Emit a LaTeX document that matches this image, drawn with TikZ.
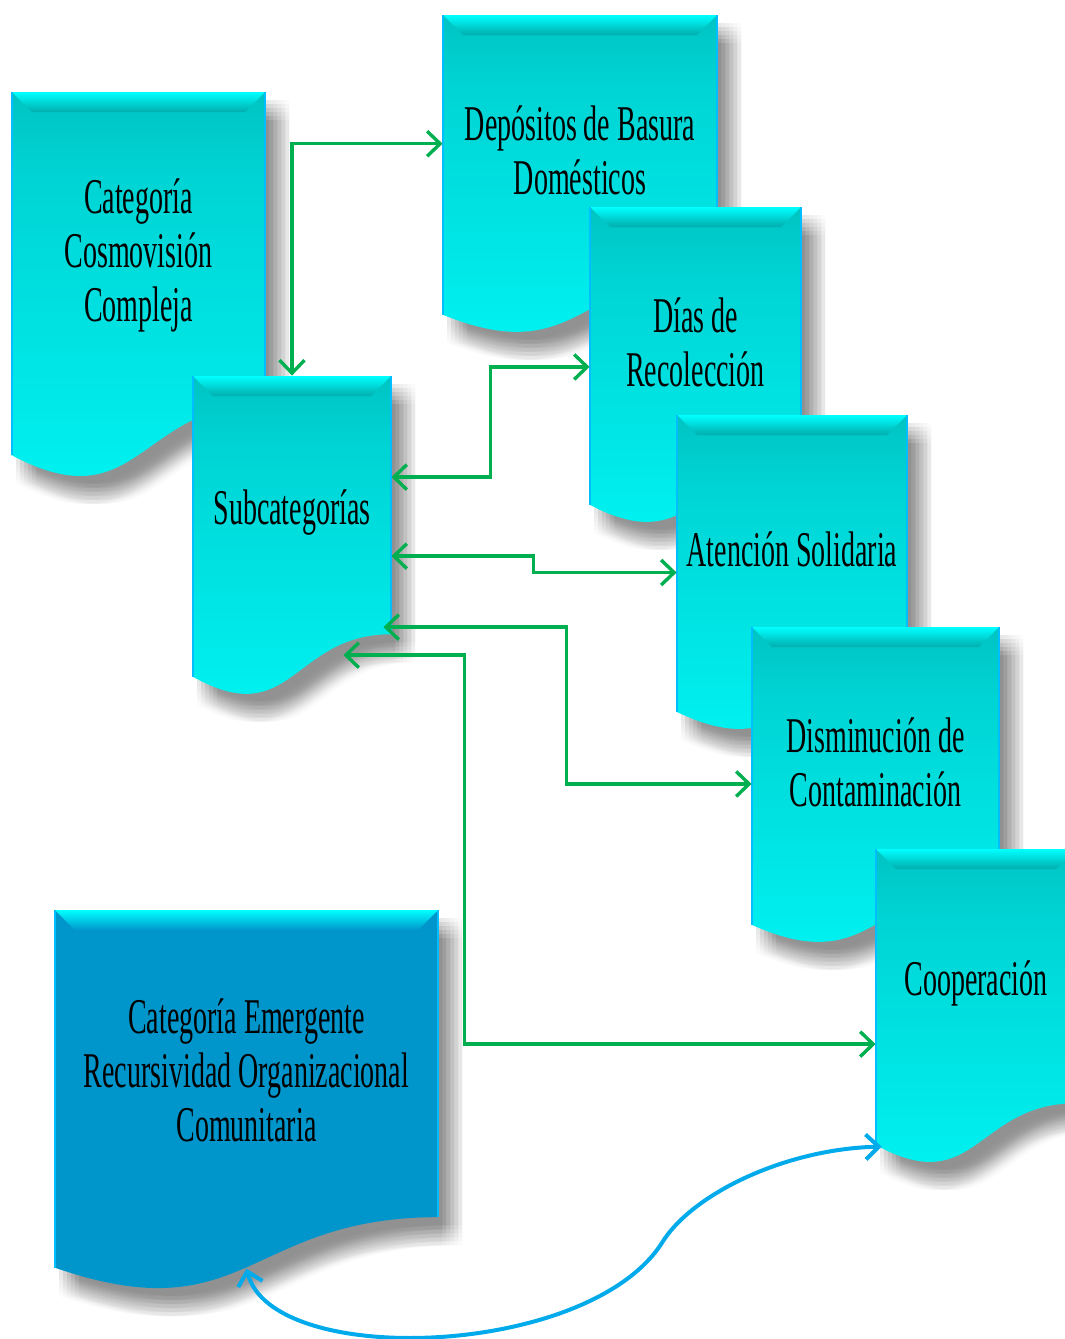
\documentclass[tikz,border=0pt]{standalone}
\usepackage{fontspec}
\setmainfont[FakeStretch=0.56]{Liberation Serif}
\usetikzlibrary{arrows.meta}

\definecolor{tealtop}{RGB}{0,174,174}
\definecolor{tealmid}{RGB}{0,212,212}
\definecolor{teallow}{RGB}{0,236,236}
\definecolor{tealbot}{RGB}{0,255,255}
\definecolor{deeptop}{RGB}{0,150,204}
\definecolor{deepbot}{RGB}{0,228,255}
\definecolor{brightcyan}{RGB}{0,255,255}
\definecolor{sideblue}{RGB}{0,190,255}
\definecolor{flowgreen}{RGB}{0,176,80}
\definecolor{loopblue}{RGB}{0,170,235}

\pgfdeclareverticalshading{tealshade}{100bp}{color(0bp)=(tealbot); color(12bp)=(tealbot);
  color(35bp)=(teallow); color(65bp)=(tealmid); color(88bp)=(tealtop); color(100bp)=(tealtop)}
\pgfdeclareverticalshading{deepshade}{100bp}{color(0bp)=(deepbot); color(10bp)=(deepbot);
  color(30bp)=(deeptop); color(100bp)=(deeptop)}

\tikzset{
  boxtext/.style={inner sep=0pt, align=center, font=\fontsize{25}{27}\selectfont},
  flow/.style={flowgreen, line width=1.7pt},
  loop/.style={loopblue, line width=2pt},
}

% document shape: name, left, top, width, height, shading, top colour, text
\newcommand{\docbox}[8]{%
  \foreach \dx in {4,8,...,24} \foreach \dy in {8,12,...,28}
    \fill[black, opacity=0.016, shift={(\dx,\dy)}] (#2,#3) -- ({#2+#4},#3) -- ({#2+#4},{#3+0.802*#5})
      .. controls ({#2+0.5*#4},{#3+0.802*#5}) and ({#2+0.5*#4},{#3+1.107*#5}) .. (#2,{#3+0.934*#5}) -- cycle;
  \shade[shading=#6] (#2,#3) -- ({#2+#4},#3) -- ({#2+#4},{#3+0.802*#5})
      .. controls ({#2+0.5*#4},{#3+0.802*#5}) and ({#2+0.5*#4},{#3+1.107*#5}) .. (#2,{#3+0.934*#5}) -- cycle;
  \shade[top color=brightcyan, bottom color=#7] (#2,#3) -- ({#2+#4},#3) -- ({#2+#4-20},{#3+20}) -- ({#2+20},{#3+20}) -- cycle;
  \draw[sideblue, line width=0.6pt] (#2,{#3+0.934*#5}) -- (#2,#3) ({#2+#4},#3) -- ({#2+#4},{#3+0.802*#5});
  \node[inner sep=0pt, minimum width={#4*0.5pt}, minimum height={0.802*#5*0.5pt}] (#1) at ({#2+0.5*#4},{#3+0.401*#5}) {};
  \node[boxtext, yshift=-3.5pt] (#1-text) at (#1.center) {#8};
}

\begin{document}
\begin{tikzpicture}[x=0.5pt, y=-0.5pt, >={Straight Barb[length=6.5pt,width=12.5pt]}]
  \useasboundingbox (0,0) rectangle (1065,1339);
  \clip (0,0) rectangle (1065,1339);

  % boxes, back to front
  \docbox{cat}{12}{92}{253}{389}{tealshade}{tealtop}{Categoría\\Cosmovisión\\Compleja}
  \docbox{sub}{193}{376}{198}{322}{tealshade}{tealtop}{Subcategorías}
  \docbox{dep}{443}{15}{274}{321}{tealshade}{tealtop}{Depósitos de Basura\\Domésticos}
  \docbox{dias}{590}{207}{211}{319}{tealshade}{tealtop}{Días de\\Recolección}
  \docbox{aten}{677}{415}{230}{318}{tealshade}{tealtop}{Atención Solidaria}
  \docbox{dism}{752}{627}{247}{319}{tealshade}{tealtop}{Disminución de\\Contaminación}
  \docbox{coop}{876}{849}{200}{317}{tealshade}{tealtop}{Cooperación}
  \docbox{emerg}{55}{910}{383}{383}{deepshade}{deeptop}{Categoría Emergente\\Recursividad Organizacional\\Comunitaria}

  % green links
  \draw[flow, <->] (dep.west) -| (sub.north);
  \draw[flow, <->] ([yshift=14pt]sub.east) -- ++(99,0) |- ([yshift=-16pt]dias.west);
  \draw[flow, <->] ([yshift=-25.5pt]sub.east) -- ++(142,0) |- ([yshift=-15pt]aten.west);
  \draw[flow, <->] ([xshift=-4pt,yshift=-61pt]sub.east) -- ++(183,0) |- ([yshift=-14.5pt]dism.west);
  \draw[flow, <->] ([xshift=-24pt,yshift=-75pt]sub.east) -- ++(121,0) |- ([yshift=-34pt]coop.west);

  % blue loop back
  \draw[loop, <->] ([yshift=-25.5pt]emerg.south) .. controls +(25,100) and +(-75,115) .. ++(415,-25)
    .. controls +(30,-50) and +(-95,2) .. ([xshift=3pt,yshift=-21.5pt]coop.south west);
\end{tikzpicture}
\end{document}
